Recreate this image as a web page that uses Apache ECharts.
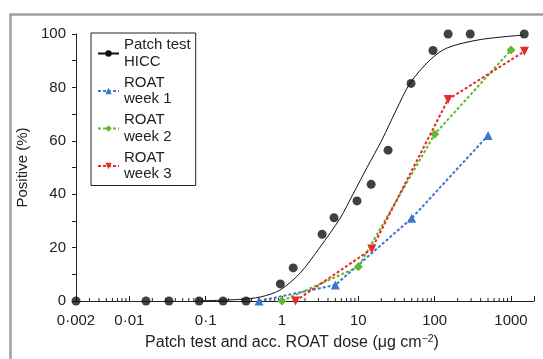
<!DOCTYPE html>
<html>
<head>
<meta charset="utf-8">
<script src="https://cdn.jsdelivr.net/npm/echarts@6/dist/echarts.min.js"></script>
<style>
html,body{margin:0;padding:0;background:#fff;}
#chart{width:543px;height:359px;}
</style>
</head>
<body>
<div id="chart"></div>
<script>
// ---- data ----
const hiccDose = [0.002, 0.0165, 0.033, 0.082, 0.169, 0.338, 0.95, 1.4, 3.35, 4.8, 9.6, 14.7, 24.5, 49, 95, 150, 292, 1490];
const hiccPos  = [0, 0, 0, 0, 0, 0, 6.4, 12.4, 25, 31.2, 37.5, 43.7, 56.5, 81.5, 93.8, 100, 100, 100];

const fitDose = [0.09, 0.28, 0.52, 0.94, 1.73, 3.15, 5.77, 8.5, 13.0, 20.5, 31.3, 47.7, 87, 146, 394, 1443];
const fitPos  = [0.1, 0.6, 1.5, 4.1, 10.5, 20.2, 31.0, 40.0, 50.0, 60.5, 71.5, 81.6, 90.3, 94.8, 97.9, 99.6];

const wk1Dose = [0.5, 5, 50, 500];
const wk1Pos  = [0, 6, 31, 62];
const wk2Dose = [1, 10, 100, 1000];
const wk2Pos  = [0, 12.8, 62.5, 94];
const wk3Dose = [1.5, 15, 150, 1500];
const wk3Pos  = [0, 19.5, 75.5, 93.5];

const minorTicks = [0.003,0.004,0.005,0.006,0.007,0.008,0.009,
  0.02,0.03,0.04,0.05,0.06,0.07,0.08,0.09,
  0.2,0.3,0.4,0.5,0.6,0.7,0.8,0.9,
  2,3,4,5,6,7,8,9,
  20,30,40,50,60,70,80,90,
  200,300,400,500,600,700,800,900];

const names = ['Patch test\nHICC', 'ROAT\nweek 1', 'ROAT\nweek 2', 'ROAT\nweek 3'];
const xMin = 0.002, xMax = 2000;

// ---- chart ----
const FONT = '"Liberation Sans", Arial, Helvetica, sans-serif';
const TXT = '#222';
const zip = (a, b) => a.map((v, i) => [v, b[i]]);
const dash = [3, 2];

const chart = echarts.init(document.getElementById('chart'), null, {renderer: 'canvas'});
chart.setOption({
  animation: false,
  backgroundColor: '#fff',
  textStyle: {fontFamily: FONT},
  graphic: [{
    type: 'rect', left: 8, top: 12, z: -10,
    shape: {width: 600, height: 400},
    style: {fill: 'none', stroke: '#a0a0a0', lineWidth: 2.5}
  }],
  grid: {left: 76, right: 9, top: 34, bottom: 58},
  legend: {
    data: names,
    orient: 'vertical',
    left: 91, top: 33,
    padding: [4, 5, 3, 6],
    itemGap: 4.5,
    itemWidth: 21, itemHeight: 8,
    borderColor: '#222', borderWidth: 1,
    backgroundColor: '#fff',
    textStyle: {fontFamily: FONT, fontSize: 15, lineHeight: 16.5, color: TXT}
  },
  xAxis: {
    type: 'log', logBase: 10, min: xMin, max: xMax,
    splitNumber: 6,
    name: '{a|Patch test and acc. ROAT dose (μg cm}{s|−2}{a|)}',
    nameLocation: 'middle', nameGap: 33,
    nameTextStyle: {
      padding: [0, 26, 0, 0],
      rich: {
        a: {fontFamily: FONT, fontSize: 16, color: TXT, lineHeight: 17},
        s: {fontFamily: FONT, fontSize: 10.5, color: TXT, verticalAlign: 'top', lineHeight: 17}
      }
    },
    axisLine: {lineStyle: {color: TXT, width: 1}},
    axisTick: {inside: true, length: 5, lineStyle: {color: TXT}},
    splitLine: {show: false},
    axisLabel: {
      margin: 12, fontFamily: FONT, fontSize: 15, color: TXT,
      formatter: v => {
        const n = Number(Number(v).toPrecision(3));
        if (n >= xMax) return '';
        return String(n).replace('.', '·');
      }
    }
  },
  yAxis: {
    type: 'value', min: 0, max: 100, interval: 10,
    name: 'Positive (%)', nameLocation: 'middle', nameGap: 38,
    nameTextStyle: {fontFamily: FONT, fontSize: 15, color: TXT},
    axisLine: {show: true, lineStyle: {color: TXT, width: 1}},
    axisTick: {show: true, inside: false, length: 4, lineStyle: {color: TXT}},
    splitLine: {show: false},
    axisLabel: {
      margin: 10, fontFamily: FONT, fontSize: 15, color: TXT,
      formatter: v => (v % 20 === 0 ? String(v) : '')
    }
  },
  series: [
    {
      type: 'custom', name: 'minor', silent: true, z: 1,
      data: minorTicks.map(v => [v, 0]),
      renderItem: (params, api) => {
        const p = api.coord([api.value(0), 0]);
        return {type: 'line', shape: {x1: p[0], y1: p[1], x2: p[0], y2: p[1] - 3},
                style: {stroke: TXT, lineWidth: 1}};
      }
    },
    {
      type: 'line', name: names[1], data: zip(wk1Dose, wk1Pos), z: 3,
      color: '#3a78c8', symbol: 'triangle', symbolSize: 9,
      lineStyle: {width: 2, type: dash, color: '#3a78c8'},
      itemStyle: {color: '#3a78c8'}
    },
    {
      type: 'line', name: names[2], data: zip(wk2Dose, wk2Pos), z: 3,
      color: '#62b832', symbol: 'diamond', symbolSize: 9,
      lineStyle: {width: 2, type: dash, color: '#62b832'},
      itemStyle: {color: '#62b832'}
    },
    {
      type: 'line', name: names[3], data: zip(wk3Dose, wk3Pos), z: 4,
      color: '#e82a2a', symbol: 'triangle', symbolRotate: 180, symbolSize: 9,
      lineStyle: {width: 2, type: dash, color: '#e82a2a'},
      itemStyle: {color: '#e82a2a'}
    },
    {
      type: 'line', name: names[0], data: zip(fitDose, fitPos), z: 5,
      color: '#111', symbol: 'circle', showSymbol: false, symbolSize: 8,
      smooth: 0.3,
      lineStyle: {width: 1, color: '#111'},
      itemStyle: {color: '#111'}
    },
    {
      type: 'scatter', name: 'HICC points', data: zip(hiccDose, hiccPos), z: 6,
      symbol: 'circle', symbolSize: 9,
      itemStyle: {color: '#111'}
    }
  ]
});
</script>
</body>
</html>
